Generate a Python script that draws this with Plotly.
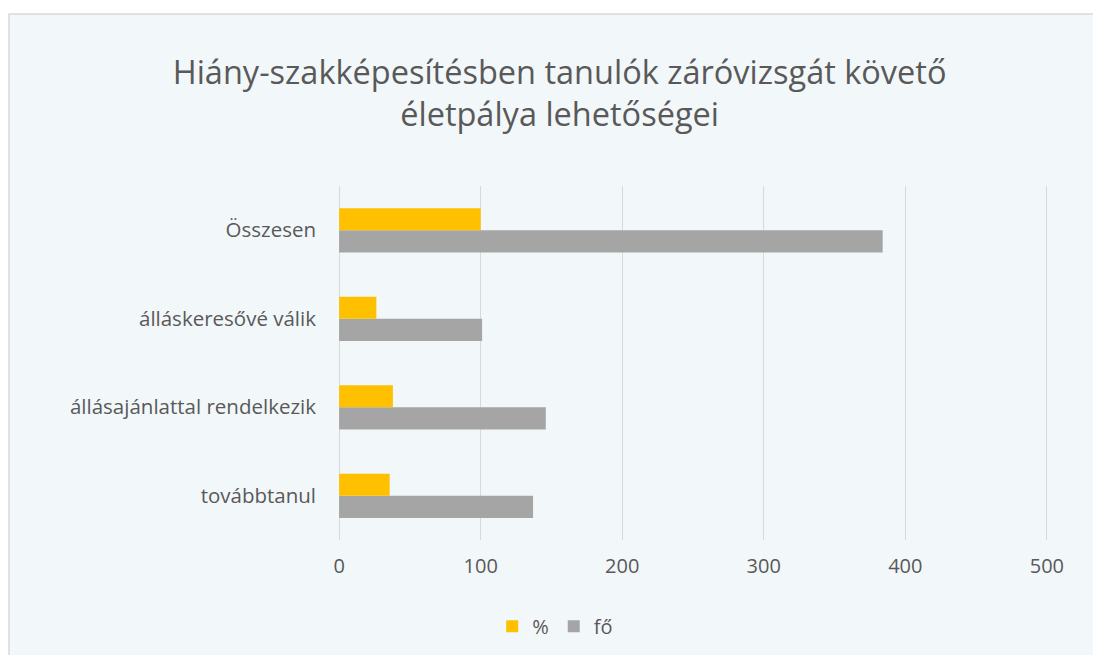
import plotly.graph_objects as go

categories = ["továbbtanul", "állásajánlattal rendelkezik", "álláskeresővé válik", "Összesen"]
pct_values = [35.7, 38.0, 26.3, 100]
fo_values = [137, 146, 101, 384]
x_ticks = [0, 100, 200, 300, 400, 500]

TXT = "#595959"
FONT = "Open Sans"
BG = "#F2F7FA"

fig = go.Figure()
fig.add_trace(go.Bar(y=categories, x=fo_values, name="fő", orientation="h",
                     marker=dict(color="#A5A5A5", line=dict(width=0))))
fig.add_trace(go.Bar(y=categories, x=pct_values, name="%", orientation="h",
                     marker=dict(color="#FFC000", line=dict(width=0))))

W, H = 1101, 655
ml, mr, mt, mb = 329, 60, 178, 123
pw, ph = W - ml - mr, H - mt - mb

fig.update_layout(
    width=W, height=H, autosize=False,
    margin=dict(l=ml, r=mr, t=mt, b=mb, pad=0, autoexpand=False),
    paper_bgcolor="white",
    plot_bgcolor=BG,
    barmode="group",
    bargap=0.5,
    bargroupgap=0,
    font=dict(family=FONT, color=TXT, size=20),
    title=dict(text="Hiány-szakképesítésben tanulók záróvizsgát követő<br>életpálya lehetőségei",
               x=0.501, xref="container", xanchor="center", y=0.884, yref="container",
               yanchor="middle",
               font=dict(family=FONT, size=32.5, color=TXT)),
    legend=dict(orientation="h", x=0.497, xanchor="center", xref="container",
                y=0.056, yref="container", yanchor="middle", traceorder="reversed",
                font=dict(size=20, color=TXT), bgcolor="rgba(0,0,0,0)"),
    xaxis=dict(range=[-1.5, 501.5], tickvals=x_ticks, showgrid=True, gridcolor="#D9D9D9",
               gridwidth=1, zeroline=False, showline=False, ticks="", automargin=False,
               tickangle=0,
               tickfont=dict(size=20, color=TXT), ticklabelstandoff=12, fixedrange=True),
    yaxis=dict(showgrid=False, zeroline=False, showline=False, ticks="", automargin=False,
               tickfont=dict(size=20.5, color=TXT), ticklabelstandoff=20, fixedrange=True),
    showlegend=True,
)

# panel background with border (extends beyond right/bottom edges)
x0 = (1 - ml) / pw
y1 = (H - 6 - mb) / ph
fig.add_shape(type="rect", xref="paper", yref="paper", x0=x0, x1=(W + 20 - ml) / pw,
              y0=(-20 - mb) / ph, y1=y1, fillcolor=BG,
              line=dict(color="#D9D9D9", width=1.5), layer="below")

fig.write_html("out.html")
